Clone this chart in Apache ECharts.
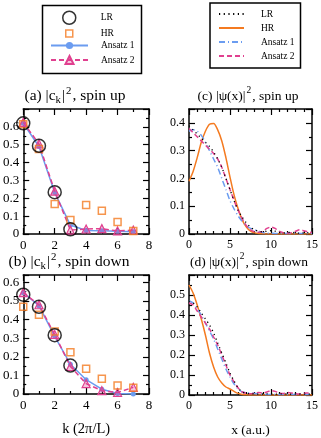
<!DOCTYPE html>
<html>
<head>
<meta charset="utf-8">
<script src="https://cdn.jsdelivr.net/npm/echarts@6/dist/echarts.min.js"></script>
<style>
html, body { margin: 0; padding: 0; background: #fff; }
#chart { width: 321px; height: 438px; }
</style>
</head>
<body>
<div id="chart"></div>
<script>
// ---- data: |c_k|^2 (left panels) ----
var kVals = [0, 1, 2, 3, 4, 5, 6, 7];
var kLR = [0, 1, 2, 3];
var ckUpLR = [0.62, 0.494, 0.234, 0.026];
var ckUpHR = [0.615, 0.476, 0.168, 0.078, 0.162, 0.13, 0.067, 0.017];
var ckUpA1 = [0.62, 0.49, 0.232, 0.05, 0.02, 0.018, 0.015, 0.012];
var ckUpA2 = [0.625, 0.505, 0.24, 0.022, 0.028, 0.03, 0.017, 0.022];
var ckDnLR = [0.534, 0.469, 0.316, 0.153];
var ckDnHR = [0.469, 0.426, 0.336, 0.225, 0.136, 0.082, 0.046, 0.034];
var ckDnA1 = [0.545, 0.475, 0.31, 0.16, 0.077, 0.026, 0.003, 0.0];
var ckDnA2 = [0.545, 0.48, 0.32, 0.148, 0.056, 0.018, 0.008, 0.036];

// ---- data: |psi(x)|^2 (right panels) ----
var xPsi = [0, 0.5, 1, 1.5, 2, 2.5, 3, 3.5, 4, 4.5, 5, 5.5, 6, 6.5, 7, 7.5, 8, 8.5, 9, 9.5, 10, 10.5, 11, 11.5, 12, 12.5, 13, 13.5, 14, 14.5, 15];
var psiUpLR = [0.39, 0.375, 0.36, 0.345, 0.33, 0.315, 0.295, 0.27, 0.24, 0.2, 0.16, 0.12, 0.085, 0.06, 0.04, 0.025, 0.015, 0.01, 0.008, 0.01, 0.012, 0.01, 0.006, 0.004, 0.005, 0.006, 0.004, 0.003, 0.004, 0.005, 0.004];
var psiUpHR = [0.19, 0.225, 0.275, 0.33, 0.37, 0.395, 0.398, 0.375, 0.335, 0.275, 0.205, 0.14, 0.09, 0.05, 0.025, 0.01, 0.004, 0.002, 0.001, 0, 0, 0, 0, 0, 0, 0, 0, 0, 0, 0, 0];
var psiUpA1 = [0.37, 0.375, 0.37, 0.355, 0.33, 0.3, 0.27, 0.24, 0.2, 0.16, 0.12, 0.09, 0.065, 0.045, 0.03, 0.02, 0.015, 0.01, 0.005, 0.003, 0.003, 0.002, 0.002, 0.002, 0.002, 0.002, 0.002, 0.002, 0.002, 0.002, 0.002];
var psiUpA2 = [0.38, 0.365, 0.35, 0.335, 0.32, 0.305, 0.29, 0.27, 0.24, 0.2, 0.16, 0.12, 0.085, 0.055, 0.03, 0.015, 0.008, 0.006, 0.01, 0.02, 0.025, 0.02, 0.01, 0.005, 0.003, 0.005, 0.01, 0.015, 0.012, 0.008, 0.005];
var psiDnLR = [0.47, 0.46, 0.44, 0.41, 0.38, 0.35, 0.31, 0.26, 0.21, 0.16, 0.11, 0.07, 0.035, 0.015, 0.008, 0.006, 0.005, 0.004, 0.005, 0.006, 0.005, 0.004, 0.005, 0.006, 0.005, 0.004, 0.004, 0.005, 0.004, 0.004, 0.004];
var psiDnHR = [0.55, 0.51, 0.45, 0.38, 0.3, 0.21, 0.14, 0.09, 0.06, 0.04, 0.03, 0.018, 0.008, 0.003, 0.001, 0, 0, 0, 0, 0, 0, 0, 0, 0, 0, 0, 0, 0, 0, 0, 0];
var psiDnA1 = [0.47, 0.46, 0.43, 0.4, 0.36, 0.32, 0.28, 0.23, 0.18, 0.13, 0.09, 0.055, 0.03, 0.015, 0.012, 0.01, 0.008, 0.005, 0.003, 0.003, 0.003, 0.003, 0.003, 0.003, 0.003, 0.003, 0.003, 0.003, 0.003, 0.003, 0.003];
var psiDnA2 = [0.46, 0.45, 0.42, 0.39, 0.36, 0.33, 0.29, 0.25, 0.2, 0.15, 0.1, 0.065, 0.035, 0.015, 0.008, 0.006, 0.01, 0.012, 0.01, 0.015, 0.022, 0.018, 0.01, 0.008, 0.012, 0.01, 0.006, 0.005, 0.008, 0.01, 0.012];

var serif = "'Liberation Serif', 'DejaVu Serif', serif";
var cOrange = '#f47a20', cBlue = '#6b9cf0', cPink = '#e0408f';

function zip(xs, ys) {
  return ys.map(function (y, i) { return [xs[i], y]; });
}

// axis helpers (box with ticks on all four sides, gnuplot style)
function xAxisOf(grid, max, interval, minorSplit, top, fs, name) {
  return {
    type: 'value', gridIndex: grid, position: top ? 'top' : 'bottom',
    min: 0, max: max, interval: interval,
    axisLine: { show: true, onZero: false, lineStyle: { color: '#000', width: 1.5 } },
    axisTick: { show: true, inside: true, length: 6, lineStyle: { color: '#000', width: 1.2 } },
    minorTick: { show: true, splitNumber: minorSplit, length: 3, lineStyle: { color: '#000', width: 1.2 } },
    axisLabel: { show: !top, color: '#000', fontFamily: serif, fontSize: fs, margin: 5 },
    splitLine: { show: false },
    name: name || '', nameLocation: 'middle', nameGap: 28,
    nameTextStyle: { color: '#000', fontFamily: serif, fontSize: fs + 1.5 }
  };
}
function yAxisOf(grid, max, right, fs) {
  return {
    type: 'value', gridIndex: grid, position: right ? 'right' : 'left',
    min: 0, max: max, interval: 0.1,
    axisLine: { show: true, onZero: false, lineStyle: { color: '#000', width: 1.5 } },
    axisTick: { show: true, inside: true, length: 6, lineStyle: { color: '#000', width: 1.2 } },
    minorTick: { show: true, splitNumber: 2, length: 3, lineStyle: { color: '#000', width: 1.2 } },
    axisLabel: { show: !right, showMaxLabel: false, color: '#000', fontFamily: serif, fontSize: fs, margin: 4 },
    splitLine: { show: false }
  };
}

function ckSeries(ax, lr, hr, a1, a2) {
  return [
    { name: 'Ansatz 1', type: 'line', xAxisIndex: ax, yAxisIndex: ax, data: zip(kVals, a1),
      symbol: 'circle', symbolSize: 5, lineStyle: { color: cBlue, width: 1.5 },
      itemStyle: { color: cBlue }, z: 3 },
    { name: 'Ansatz 2', type: 'line', xAxisIndex: ax, yAxisIndex: ax, data: zip(kVals, a2),
      symbol: 'triangle', symbolSize: 8, lineStyle: { color: cPink, width: 1.5, type: [5, 3] },
      itemStyle: { color: 'rgba(224,64,143,0.3)', borderColor: cPink, borderWidth: 1.2 }, z: 4 },
    { name: 'HR', type: 'scatter', xAxisIndex: ax, yAxisIndex: ax, data: zip(kVals, hr),
      symbol: 'rect', symbolSize: 7,
      itemStyle: { color: 'rgba(0,0,0,0)', borderColor: cOrange, borderWidth: 1.5 }, z: 5 },
    { name: 'LR', type: 'scatter', xAxisIndex: ax, yAxisIndex: ax, data: zip(kLR, lr),
      symbol: 'circle', symbolSize: 13,
      itemStyle: { color: 'rgba(0,0,0,0)', borderColor: '#000', borderWidth: 1.5 }, z: 6 }
  ];
}

function psiSeries(ax, lr, hr, a1, a2) {
  function ln(name, ys, color, type, w) {
    return { name: name, type: 'line', xAxisIndex: ax, yAxisIndex: ax, data: zip(xPsi, ys),
      symbol: 'none', smooth: 0.3, lineStyle: { color: color, width: w, type: type },
      itemStyle: { color: color } };
  }
  return [
    ln('HR (ψ)', hr, cOrange, 'solid', 1.5),
    ln('Ansatz 1 (ψ)', a1, cBlue, [6, 3, 1, 3], 1.5),
    ln('Ansatz 2 (ψ)', a2, cPink, [5, 3], 1.5),
    ln('LR (ψ)', lr, '#000', [1.2, 3.5], 1.3)
  ];
}

function titleStyle(fs) {
  return {
    fontFamily: serif, fontSize: fs, fontWeight: 'normal', color: '#000', lineHeight: 20,
    rich: {
      sub: { fontFamily: serif, fontSize: fs * 0.7, verticalAlign: 'bottom', color: '#000', padding: [0, 1, 0, 0] },
      sup: { fontFamily: serif, fontSize: fs * 0.7, verticalAlign: 'top', color: '#000', padding: [0, 1, 0, 1] }
    }
  };
}

var legendFont = 9.5;
function leftLegend(item, top, left, w, h, textPad) {
  return { data: [item], left: left, top: top, padding: 0, itemWidth: w, itemHeight: h, selectedMode: false,
    textStyle: { fontFamily: serif, fontSize: legendFont, color: '#000', padding: [0, 0, 0, textPad] } };
}

var chart = echarts.init(document.getElementById('chart'));
var option = {
  animation: false,
  backgroundColor: '#fff',
  title: [
    { text: '(a) |c{sub|k}|{sup|2}, spin up', left: 75, top: 86, textAlign: 'center', padding: 0, textStyle: titleStyle(15.5) },
    { text: '(b) |c{sub|k}|{sup|2}, spin down', left: 69, top: 252, textAlign: 'center', padding: 0, textStyle: titleStyle(15.5) },
    { text: '(c) |ψ(x)|{sup|2}, spin up', left: 248, top: 86, textAlign: 'center', padding: 0, textStyle: titleStyle(13.5) },
    { text: '(d) |ψ(x)|{sup|2}, spin down', left: 249, top: 252, textAlign: 'center', padding: 0, textStyle: titleStyle(13.5) }
  ],
  grid: [
    { left: 22, top: 109, width: 127, height: 125 },
    { left: 22, top: 275, width: 127, height: 125 },
    { left: 189, top: 109, width: 124, height: 125 },
    { left: 189, top: 275, width: 124, height: 124.5 }
  ],
  xAxis: [
    xAxisOf(0, 8, 2, 2, false, 13), xAxisOf(0, 8, 2, 2, true, 13),
    xAxisOf(1, 8, 2, 2, false, 13, 'k (2π/L)'), xAxisOf(1, 8, 2, 2, true, 13),
    xAxisOf(2, 15, 5, 5, false, 12), xAxisOf(2, 15, 5, 5, true, 12),
    xAxisOf(3, 15, 5, 5, false, 12, 'x (a.u.)'), xAxisOf(3, 15, 5, 5, true, 12)
  ],
  yAxis: [
    yAxisOf(0, 0.7, false, 13), yAxisOf(0, 0.7, true, 13),
    yAxisOf(1, 0.64, false, 13), yAxisOf(1, 0.64, true, 13),
    yAxisOf(2, 0.45, false, 12), yAxisOf(2, 0.45, true, 12),
    yAxisOf(3, 0.6, false, 12), yAxisOf(3, 0.6, true, 12)
  ],
  // left legend: one component per entry so each symbol keeps its own size
  legend: [
    leftLegend({ name: 'LR', itemStyle: { color: 'rgba(0,0,0,0)', borderColor: '#000', borderWidth: 1.5 } }, 10.5, 62, 13, 13, 20),
    leftLegend({ name: 'HR', itemStyle: { color: 'rgba(0,0,0,0)', borderColor: cOrange, borderWidth: 1.5 } }, 28.5, 65, 7, 7, 23),
    leftLegend('Ansatz 1', 40.5, 50, 37, 9, 8),
    leftLegend('Ansatz 2', 55, 50, 37, 10, 8),
    // right legend (line samples only)
    { data: ['LR (ψ)', 'HR (ψ)', 'Ansatz 1 (ψ)', 'Ansatz 2 (ψ)'],
      orient: 'vertical', left: 210, top: 3, padding: [6, 6, 7, 8],
      borderColor: '#000', borderWidth: 1.5, itemWidth: 25, itemHeight: 10, itemGap: 4,
      selectedMode: false,
      itemStyle: { color: 'rgba(0,0,0,0)', borderColor: 'rgba(0,0,0,0)', borderWidth: 0 },
      formatter: function (n) { return n.replace(' (ψ)', ''); },
      textStyle: { fontFamily: serif, fontSize: legendFont, color: '#000', lineHeight: 10, padding: [0, 0, 0, 12] } }
  ],
  graphic: [
    { type: 'rect', left: 40, top: 3, shape: { width: 99, height: 68 },
      style: { fill: 'none', stroke: '#000', lineWidth: 1.5 } }
  ],
  series: [].concat(
    ckSeries(0, ckUpLR, ckUpHR, ckUpA1, ckUpA2),
    ckSeries(2, ckDnLR, ckDnHR, ckDnA1, ckDnA2),
    psiSeries(4, psiUpLR, psiUpHR, psiUpA1, psiUpA2),
    psiSeries(6, psiDnLR, psiDnHR, psiDnA1, psiDnA2)
  )
};
chart.setOption(option);
</script>
</body>
</html>
